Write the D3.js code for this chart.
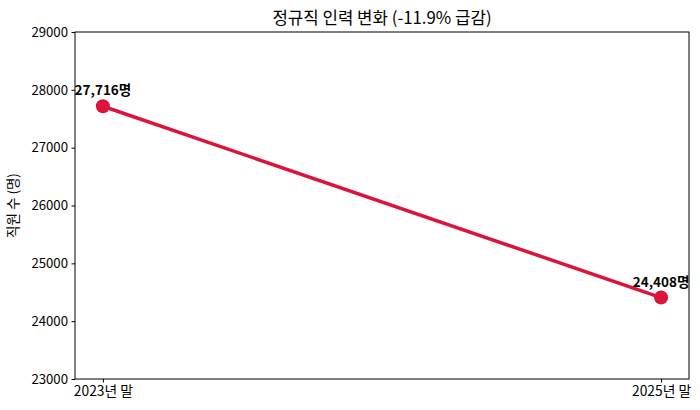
<!DOCTYPE html>
<html>
<head>
<meta charset="utf-8">
<script src="https://cdn.jsdelivr.net/npm/d3@7"></script>
<style>
  body { margin: 0; background: #fff; }
  text { font-family: "Noto Sans CJK KR", "Noto Sans", sans-serif; }
</style>
</head>
<body>
<svg id="chart"></svg>
<script>
// chart data
var categories = ["2023년 말", "2025년 말"];
var values = [27716, 24408];
var yTicks = [23000, 24000, 25000, 26000, 27000, 28000, 29000];

var width = 700, height = 410;
var margin = { top: 32, right: 11, bottom: 31, left: 75 };
var innerW = width - margin.left - margin.right;
var innerH = height - margin.top - margin.bottom;

var svg = d3.select("#chart")
    .attr("width", width)
    .attr("height", height);

var g = svg.append("g")
    .attr("transform", "translate(" + margin.left + "," + margin.top + ")");

// matplotlib-style 5% padding on x
var x = d3.scaleLinear()
    .domain([-0.05, categories.length - 1 + 0.05])
    .range([0, innerW]);

var y = d3.scaleLinear()
    .domain([23000, 29000])
    .range([innerH, 0]);

// axes
var yAxis = g.append("g")
    .call(d3.axisLeft(y).tickValues(yTicks).tickSize(3.5).tickPadding(3.5).tickFormat(d3.format("d")));
yAxis.select(".domain").remove();
yAxis.selectAll("text").attr("font-size", 13.2).attr("fill", "#000");

var xAxis = g.append("g")
    .attr("transform", "translate(0," + innerH + ")")
    .call(d3.axisBottom(x).tickValues(d3.range(categories.length)).tickSize(3.5).tickPadding(4)
        .tickFormat(function(i) { return categories[i]; }));
xAxis.select(".domain").remove();
xAxis.selectAll("text").attr("font-size", 13.8).attr("fill", "#000");

// frame
g.append("rect")
    .attr("width", innerW)
    .attr("height", innerH)
    .attr("fill", "none")
    .attr("stroke", "#000")
    .attr("stroke-width", 1);

// line
var line = d3.line()
    .x(function(d, i) { return x(i); })
    .y(function(d) { return y(d); });

g.append("path")
    .datum(values)
    .attr("d", line)
    .attr("fill", "none")
    .attr("stroke", "#dc143c")
    .attr("stroke-width", 3.5);

g.selectAll("circle.pt")
    .data(values)
    .enter()
    .append("circle")
    .attr("class", "pt")
    .attr("cx", function(d, i) { return x(i); })
    .attr("cy", function(d) { return y(d); })
    .attr("r", 7)
    .attr("fill", "#dc143c");

// value labels
g.selectAll("text.val")
    .data(values)
    .enter()
    .append("text")
    .attr("class", "val")
    .attr("x", function(d, i) { return x(i); })
    .attr("y", function(d) { return y(d) - 11; })
    .attr("text-anchor", "middle")
    .attr("font-size", 13.5)
    .attr("font-weight", "bold")
    .text(function(d) { return d3.format(",")(d) + "명"; });

// title
svg.append("text")
    .attr("x", margin.left + innerW / 2)
    .attr("y", 24)
    .attr("text-anchor", "middle")
    .attr("font-size", 16.8)
    .text("정규직 인력 변화 (-11.9% 급감)");

// y label
svg.append("text")
    .attr("transform", "translate(18," + (margin.top + innerH / 2) + ") rotate(-90)")
    .attr("text-anchor", "middle")
    .attr("font-size", 13.5)
    .text("직원 수 (명)");
</script>
</body>
</html>
